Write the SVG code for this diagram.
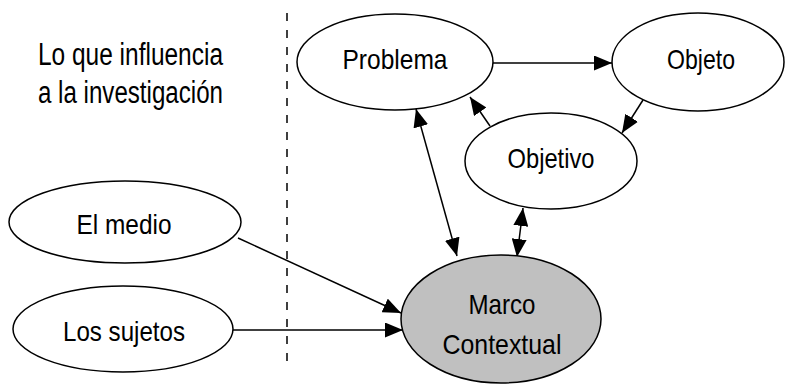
<svg xmlns="http://www.w3.org/2000/svg" width="789" height="387" viewBox="0 0 789 387">
<style>
.n{fill:#fff;stroke:#000;stroke-width:1.5}
.g{fill:#c0c0c0;stroke:#000;stroke-width:1.5}
.t{font-family:"Liberation Sans",Arial,sans-serif;font-size:28px;fill:#000;text-anchor:middle}
.h{font-family:"Liberation Sans",Arial,sans-serif;font-size:31px;fill:#000}
.c{stroke:#000;stroke-width:1.5;fill:none}
</style>
<defs>
<marker id="ah" markerUnits="userSpaceOnUse" markerWidth="18" markerHeight="15" refX="18" refY="7.5" orient="auto-start-reverse">
<path d="M0,0 L18,7.5 L0,15 z" fill="#000"/>
</marker>
</defs>
<rect width="789" height="387" fill="#fff"/>
<g id="label">
<text class="h" x="38" y="65" textLength="185" lengthAdjust="spacingAndGlyphs">Lo que influencia</text>
<text class="h" x="38" y="103" textLength="185" lengthAdjust="spacingAndGlyphs">a la investigación</text>
</g>
<line x1="287" y1="13" x2="287" y2="367" stroke="#000" stroke-width="1.5" stroke-dasharray="8,9"/>
<g id="connectors">
<line class="c" x1="492" y1="63" x2="612" y2="63" marker-end="url(#ah)"/>
<line class="c" x1="643" y1="100" x2="622" y2="133" marker-end="url(#ah)"/>
<line class="c" x1="490" y1="126" x2="470" y2="97" marker-end="url(#ah)"/>
<line class="c" x1="416" y1="109" x2="457" y2="256" marker-start="url(#ah)" marker-end="url(#ah)"/>
<line class="c" x1="523" y1="208" x2="517" y2="257" marker-start="url(#ah)" marker-end="url(#ah)"/>
<line class="c" x1="238" y1="238" x2="401" y2="313" marker-end="url(#ah)"/>
<line class="c" x1="233" y1="330" x2="403" y2="330" marker-end="url(#ah)"/>
</g>
<g id="problema">
<ellipse class="n" cx="395" cy="62" rx="98" ry="48"/>
<text class="t" x="395" y="69" textLength="105" lengthAdjust="spacingAndGlyphs">Problema</text>
</g>
<g id="objeto">
<ellipse class="n" cx="698" cy="62" rx="86" ry="49"/>
<text class="t" x="701" y="69" textLength="68" lengthAdjust="spacingAndGlyphs">Objeto</text>
</g>
<g id="objetivo">
<ellipse class="n" cx="551" cy="161" rx="86" ry="48"/>
<text class="t" x="551" y="168" textLength="87" lengthAdjust="spacingAndGlyphs">Objetivo</text>
</g>
<g id="el-medio">
<ellipse class="n" cx="125" cy="222" rx="116" ry="41"/>
<text class="t" x="124" y="234" textLength="95" lengthAdjust="spacingAndGlyphs">El medio</text>
</g>
<g id="los-sujetos">
<ellipse class="n" cx="123" cy="329" rx="110" ry="43"/>
<text class="t" x="124" y="341" textLength="122" lengthAdjust="spacingAndGlyphs">Los sujetos</text>
</g>
<g id="marco">
<ellipse class="g" cx="501" cy="319" rx="100" ry="64"/>
<text class="t" x="502" y="314" textLength="67" lengthAdjust="spacingAndGlyphs">Marco</text>
<text class="t" x="502" y="354" textLength="119" lengthAdjust="spacingAndGlyphs">Contextual</text>
</g>
</svg>
